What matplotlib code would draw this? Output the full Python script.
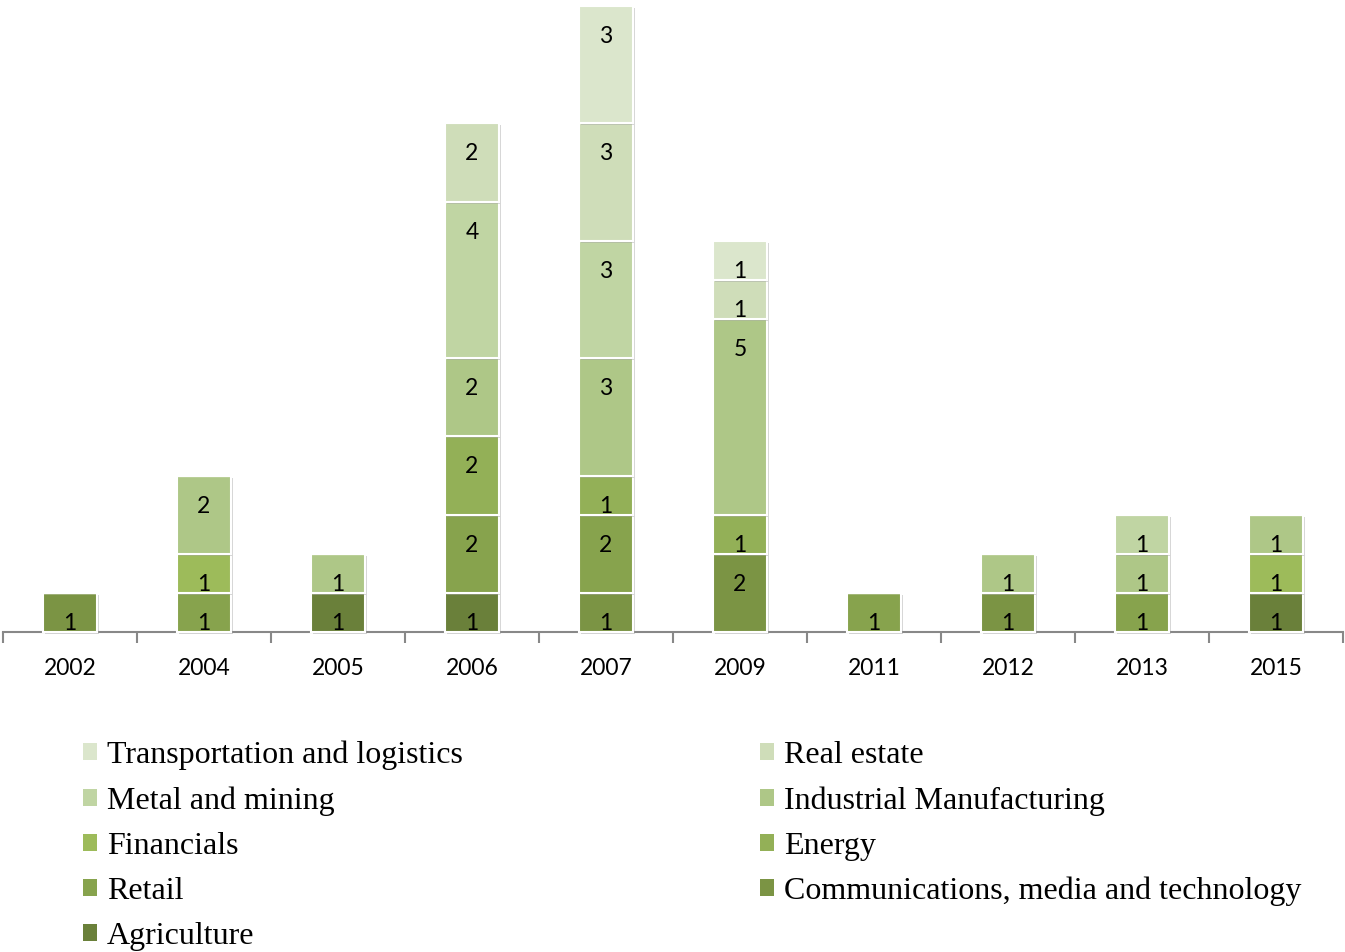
import matplotlib
matplotlib.use('Agg')
import matplotlib.pyplot as plt
import matplotlib.patheffects as pe
from matplotlib.patches import Patch
import numpy as np

years = ['2002', '2004', '2005', '2006', '2007', '2009', '2011', '2012', '2013', '2015']

# series in stacking order (bottom -> top)
sectors = ['Agriculture', 'Communications, media and technology', 'Retail', 'Energy',
           'Financials', 'Industrial Manufacturing', 'Metal and mining',
           'Real estate', 'Transportation and logistics']
colors = ['#6a803a', '#7b9444', '#87a34d', '#93b057', '#9dbb5a',
          '#aec787', '#c0d5a3', '#cfddb9', '#dbe6cc']

agriculture    = [0, 0, 1, 1, 0, 0, 0, 0, 0, 1]
communications = [1, 0, 0, 0, 1, 2, 0, 1, 0, 0]
retail         = [0, 1, 0, 2, 2, 0, 1, 0, 1, 0]
energy         = [0, 0, 0, 2, 1, 1, 0, 0, 0, 0]
financials     = [0, 1, 0, 0, 0, 0, 0, 0, 0, 1]
industrial     = [0, 2, 1, 2, 3, 5, 0, 1, 1, 1]
metal          = [0, 0, 0, 4, 3, 0, 0, 0, 1, 0]
real_estate    = [0, 0, 0, 2, 3, 1, 0, 0, 0, 0]
transport      = [0, 0, 0, 0, 3, 1, 0, 0, 0, 0]

values = [agriculture, communications, retail, energy, financials,
          industrial, metal, real_estate, transport]

fig = plt.figure(figsize=(13.45, 9.52), dpi=100)
ax = fig.add_axes([3 / 1345, 1 - 632 / 952, 1340 / 1345, 626 / 952])

x = np.arange(len(years))
bottom = np.zeros(len(years))
shadow = [pe.SimplePatchShadow(offset=(1.5, -1.5), shadow_rgbFace='#999999', alpha=0.4), pe.Normal()]
for name, vals, col in zip(sectors, values, colors):
    vals = np.array(vals)
    bars = ax.bar(x, vals, 0.4, bottom=bottom, color=col, edgecolor='white',
                  linewidth=1.5, clip_on=False, zorder=3)
    for b in bars:
        b.set_path_effects(shadow)
    for xi, v, b0 in zip(x, vals, bottom):
        if v > 0:
            ax.annotate(str(v), (xi, b0 + v), xytext=(0, -22), textcoords='offset points',
                        ha='center', va='center', fontsize=16.5, family='Lato', zorder=5)
    bottom += vals

ax.set_xlim(-0.5, len(years) - 0.5)
ax.set_ylim(0, 16)
for s in ['top', 'right', 'left']:
    ax.spines[s].set_visible(False)
ax.spines['bottom'].set_color('#888888')
ax.spines['bottom'].set_linewidth(1.5)
ax.set_yticks([])
ax.set_xticks(x)
ax.set_xticklabels(years, fontsize=16.5, family='Lato')
ax.tick_params(axis='x', which='major', length=0, pad=18.5)
ax.set_xticks(np.arange(-0.5, len(years)), minor=True)
ax.tick_params(axis='x', which='minor', length=8, width=1.5, color='#888888', direction='out')

# legend, filled row-wise like the original (two columns)
order = [8, 6, 4, 2, 0, 7, 5, 3, 1]
handles = [Patch(facecolor=colors[i], edgecolor='none') for i in order]
labels = [sectors[i] for i in order]
fig.legend(handles, labels, ncol=2, loc='upper left', bbox_to_anchor=(0.0617, 0.222),
           frameon=False, prop={'family': 'Liberation Serif', 'size': 23},
           handlelength=0.45, handleheight=0.45, handletextpad=0.3,
           labelspacing=0.5, columnspacing=9.3, borderpad=0, borderaxespad=0)

plt.savefig('out.png', dpi=100)
